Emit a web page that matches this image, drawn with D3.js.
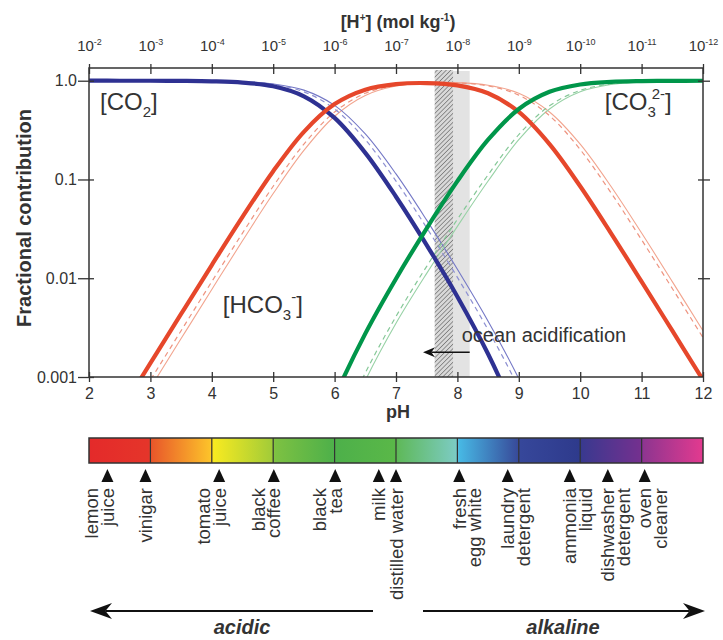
<!DOCTYPE html>
<html>
<head>
<meta charset="utf-8">
<script src="https://cdn.jsdelivr.net/npm/d3@7"></script>
<style>
  body { margin: 0; background: #fff; }
  svg text { font-family: "Liberation Sans", Arial, sans-serif; fill: #333; }
</style>
</head>
<body>
<div class="bjerrum"></div>
<script>
// pH grid the curves were read at
const phGrid = [2, 2.5, 3, 3.5, 4, 4.5, 5, 5.5, 6, 6.5, 7, 7.5, 8, 8.5, 9, 9.5, 10, 10.5, 11, 11.5, 12];

// thick lines
const co2Thick  = [1.0, 0.9996, 0.9986, 0.9957, 0.9864, 0.958, 0.8788, 0.696, 0.42, 0.1859, 0.0669, 0.02168, 0.006502, 0.001708, 0.00035, 0.0000522, null, null, null, null, null];
const hco3Thick = [0.000138, 0.000437, 0.00138, 0.00435, 0.01361, 0.0418, 0.1213, 0.3038, 0.5795, 0.8113, 0.9232, 0.9463, 0.8973, 0.7456, 0.4825, 0.2279, 0.08536, 0.02867, 0.009246, 0.002942, 0.000933];
const co3Thick  = [null, null, null, null, null, null, 0.000013, 0.000103, 0.000621, 0.00275, 0.00989, 0.03206, 0.09617, 0.2526, 0.5171, 0.7721, 0.9146, 0.9713, 0.9908, 0.9971, 0.9991];
// dashed lines
const co2Dash  = [1.0, 0.9997, 0.9991, 0.9971, 0.9908, 0.9713, 0.9146, 0.7721, 0.5171, 0.2529, 0.09643, 0.03238, 0.0102, 0.003, 0.000766, 0.00015, null, null, null, null, null];
const hco3Dash = [0.0000933, 0.000295, 0.000932, 0.002942, 0.009247, 0.02866, 0.08536, 0.2279, 0.4827, 0.7462, 0.9, 0.9556, 0.9519, 0.8854, 0.7147, 0.4426, 0.2008, 0.07359, 0.0245, 0.00788, 0.002506];
const co3Dash  = [null, null, null, null, null, null, null, 0.000035, 0.00023, 0.0011, 0.0041, 0.0132, 0.0395, 0.1115, 0.2845, 0.5572, 0.7992, 0.9264, 0.9755, 0.9921, 0.9975];
// thin lines
const co2Thin  = [1.0, 0.9998, 0.9992, 0.99755, 0.9923, 0.976, 0.928, 0.8029, 0.5629, 0.2892, 0.1138, 0.03874, 0.01231, 0.003666, 0.000961, 0.000197, null, null, null, null, null];
const hco3Thin = [0.0000776, 0.000245, 0.000776, 0.002449, 0.007702, 0.02396, 0.07203, 0.1971, 0.4369, 0.71, 0.8833, 0.9512, 0.9553, 0.8999, 0.7462, 0.4827, 0.2279, 0.08536, 0.02867, 0.009242, 0.002943];
const co3Thin  = [null, null, null, null, null, null, null, 0.000026, 0.00018, 0.00092, 0.0035, 0.0112, 0.0335, 0.0964, 0.2528, 0.5171, 0.7721, 0.9146, 0.9713, 0.9908, 0.9971];

const phTicks = [2, 3, 4, 5, 6, 7, 8, 9, 10, 11, 12];
const fracTicks = [1, 0.1, 0.01, 0.001];
const fracLabels = ["1.0", "0.1", "0.01", "0.001"];

// ocean pH bands: future (hatched) and present (grey)
const futureBand = [7.63, 7.93];
const presentBand = [7.93, 8.2];

// pH colour bar
const barStopPH    = [2, 2.97, 3.03, 3.97, 4.03, 4.97, 5.03, 6, 7, 7.03, 7.97, 8.03, 8.97, 9.03, 10, 10.03, 11, 11.03, 12];
const barStopColor = ["#e42a2a", "#e5352a", "#e9582a", "#fcc22a", "#f8ea20", "#a3cc38", "#7dc142", "#4db04a", "#5ab848", "#5fb95a", "#7ccbc2", "#47b8e4", "#384c9b", "#36479a", "#2e3a8c", "#3a398f", "#75308f", "#8e3590", "#e33a8f"];

const productPH = [2.3, 2.92, 4.12, 5.01, 6.01, 6.72, 7.0, 8.03, 8.82, 9.83, 10.45, 11.05];
const productNames = [["lemon", "juice"], ["vinigar"], ["tomato", "juice"], ["black", "coffee"], ["black", "tea"], ["milk"], ["distilled water"], ["fresh", "egg white"], ["laundry", "detergent"], ["ammonia", "liquid"], ["dishwasher", "detergent"], ["oven", "cleaner"]];

const svg = d3.select(".bjerrum").append("svg")
    .attr("width", 723).attr("height", 640);

const pLeft = 89, pRight = 703, pTop = 68, pBottom = 377;
const x = d3.scaleLinear().domain([2, 12]).range([pLeft, pRight]);
const y = d3.scaleLog().domain([0.001, 1.345]).range([pBottom, pTop]);

// hatch pattern for the future band
const defs = svg.append("defs");
const pat = defs.append("pattern").attr("id", "hatch")
    .attr("patternUnits", "userSpaceOnUse").attr("width", 3.2).attr("height", 3.2)
    .attr("patternTransform", "rotate(45)");
pat.append("rect").attr("width", 3.2).attr("height", 3.2).attr("fill", "#d9d9d9");
pat.append("line").attr("x1", 0).attr("y1", 0).attr("x2", 0).attr("y2", 3.2)
    .attr("stroke", "#555").attr("stroke-width", 1.1);

defs.append("clipPath").attr("id", "plotClip")
    .append("rect").attr("x", pLeft).attr("y", pTop).attr("width", pRight - pLeft).attr("height", pBottom - pTop);

svg.append("rect")
    .attr("x", x(presentBand[0])).attr("y", pTop + 3)
    .attr("width", x(presentBand[1]) - x(presentBand[0])).attr("height", pBottom - pTop - 3)
    .attr("fill", "#e3e3e3");
svg.append("rect")
    .attr("x", x(futureBand[0])).attr("y", pTop + 2)
    .attr("width", x(futureBand[1]) - x(futureBand[0])).attr("height", pBottom - pTop - 2)
    .attr("fill", "url(#hatch)");

// curves
const series = [
    {vals: hco3Thin, color: "#f2a58f", width: 1.1, dash: null},
    {vals: co2Thin, color: "#7478c6", width: 1.1, dash: null},
    {vals: co3Thin, color: "#98d2a6", width: 1.1, dash: null},
    {vals: hco3Dash, color: "#ee9480", width: 1.2, dash: "5,4"},
    {vals: co2Dash, color: "#8d90d2", width: 1.2, dash: "5,4"},
    {vals: co3Dash, color: "#86c898", width: 1.2, dash: "5,4"},
    {vals: co2Thick, color: "#2e3192", width: 4.2, dash: null},
    {vals: hco3Thick, color: "#e6472b", width: 4.2, dash: null},
    {vals: co3Thick, color: "#00964a", width: 4.2, dash: null}
];

const line = d3.line()
    .defined(d => d[1] != null)
    .x(d => x(d[0]))
    .y(d => y(d[1]))
    .curve(d3.curveCatmullRom.alpha(0.5));

svg.append("g").attr("clip-path", "url(#plotClip)")
    .selectAll("path")
    .data(series)
    .join("path")
    .attr("d", s => line(phGrid.map((p, i) => [p, s.vals[i]])))
    .attr("fill", "none")
    .attr("stroke", s => s.color)
    .attr("stroke-width", s => s.width)
    .attr("stroke-dasharray", s => s.dash);

// frame
svg.append("rect").attr("x", pLeft).attr("y", pTop).attr("width", pRight - pLeft).attr("height", pBottom - pTop)
    .attr("fill", "none").attr("stroke", "#333").attr("stroke-width", 1.5);

// bottom axis
const gx = svg.append("g").attr("transform", `translate(0,${pBottom})`)
    .call(d3.axisBottom(x).tickValues(phTicks).tickFormat(d3.format("d")).tickSize(5).tickPadding(6));
gx.select(".domain").remove();
gx.selectAll(".tick line").attr("y1", -5).attr("stroke", "#333").attr("stroke-width", 1.3);
gx.selectAll(".tick text").attr("font-size", 16).attr("fill", "#333").attr("font-family", null);

// top axis, [H+] = 10^-pH
const gt = svg.append("g").attr("transform", `translate(0,${pTop})`)
    .call(d3.axisTop(x).tickValues(phTicks).tickFormat("").tickSize(4));
gt.select(".domain").remove();
gt.selectAll(".tick line").attr("y2", 6).attr("y1", -4).attr("stroke", "#333").attr("stroke-width", 1.3);
gt.selectAll(".tick").each(function(d) {
    const t = d3.select(this).append("text").attr("y", -17).attr("text-anchor", "middle")
        .attr("font-size", 15).attr("fill", "#333");
    t.append("tspan").text("10");
    t.append("tspan").attr("dy", -6).attr("font-size", 9).text("-" + d);
});

// left axis
const gy = svg.append("g").attr("transform", `translate(${pLeft},0)`)
    .call(d3.axisLeft(y).tickValues(fracTicks).tickFormat((d, i) => fracLabels[i]).tickSize(11).tickPadding(1));
gy.select(".domain").remove();
gy.selectAll(".tick line").attr("x1", 5).attr("stroke", "#333").attr("stroke-width", 1.3);
gy.selectAll(".tick text").attr("font-size", 16).attr("fill", "#333").attr("font-family", null);

// right axis
const gr = svg.append("g").attr("transform", `translate(${pRight},0)`)
    .call(d3.axisRight(y).tickValues(fracTicks.slice(0, 3)).tickFormat("").tickSize(7));
gr.select(".domain").remove();
gr.selectAll(".tick line").attr("x1", -5).attr("stroke", "#333").attr("stroke-width", 1.3);

// axis titles
const hTitle = svg.append("text").attr("x", 398).attr("y", 28).attr("text-anchor", "middle")
    .attr("font-size", 18).attr("font-weight", "bold");
hTitle.append("tspan").text("[H");
hTitle.append("tspan").attr("dy", -7).attr("font-size", 10).text("+");
hTitle.append("tspan").attr("dy", 7).text("] (mol kg");
hTitle.append("tspan").attr("dy", -7).attr("font-size", 10).text("-1");
hTitle.append("tspan").attr("dy", 7).text(")");

svg.append("text").attr("x", 398).attr("y", 418).attr("text-anchor", "middle")
    .attr("font-size", 18).attr("font-weight", "bold").text("pH");

svg.append("text").attr("transform", "translate(31,218) rotate(-90)").attr("text-anchor", "middle")
    .attr("font-size", 20).attr("font-weight", "bold").text("Fractional contribution");

// species labels
function species(px, val, base, sub, sup, back) {
    const t = svg.append("text").attr("x", x(px)).attr("y", y(val)).attr("font-size", 24);
    t.append("tspan").text("[" + base);
    t.append("tspan").attr("dy", 7).attr("font-size", 15).text(sub);
    if (sup) {
        t.append("tspan").attr("dy", -18).attr("dx", back).attr("font-size", 15).text(sup);
        t.append("tspan").attr("dy", 11).text("]");
    } else {
        t.append("tspan").attr("dy", -7).text("]");
    }
}
species(2.18, 0.505, "CO", "2", null, 0);
species(4.18, 0.0044, "HCO", "3", "-", 0);
species(10.4, 0.505, "CO", "3", "2-", -4);

// ocean acidification arrow
function arrow(x1, x2, yy, len, half, sw) {
    const dir = Math.sign(x2 - x1);
    svg.append("line").attr("x1", x1).attr("x2", x2 - dir * len * 0.7).attr("y1", yy).attr("y2", yy)
        .attr("stroke", "#111").attr("stroke-width", sw);
    svg.append("path")
        .attr("d", `M${x2},${yy} L${x2 - dir * len},${yy - half} L${x2 - dir * len * 0.7},${yy} L${x2 - dir * len},${yy + half} Z`)
        .attr("fill", "#111");
}
arrow(x(8.2), x(7.44), y(0.00178), 12, 5, 1.4);
svg.append("text").attr("x", x(8.07)).attr("y", y(0.00225)).attr("font-size", 20).text("ocean acidification");

// pH colour bar
const barTop = 438, barH = 25;
const grad = defs.append("linearGradient").attr("id", "phGrad")
    .attr("gradientUnits", "userSpaceOnUse").attr("x1", x(2)).attr("x2", x(12)).attr("y1", 0).attr("y2", 0);
grad.selectAll("stop").data(barStopPH).join("stop")
    .attr("offset", d => (d - 2) / 10)
    .attr("stop-color", (d, i) => barStopColor[i]);
svg.append("rect").attr("x", x(2)).attr("y", barTop).attr("width", x(12) - x(2)).attr("height", barH)
    .attr("fill", "url(#phGrad)").attr("stroke", "#333").attr("stroke-width", 1.5);
svg.selectAll(".div").data(phTicks.slice(1, -1)).join("line")
    .attr("x1", d => x(d)).attr("x2", d => x(d)).attr("y1", barTop).attr("y2", barTop + barH)
    .attr("stroke", "#333").attr("stroke-width", 1.2);

// product markers and labels
const markTop = 469, markBase = 482, labelTop = 488, lineH = 15.5;
svg.selectAll(".mark").data(productPH).join("path")
    .attr("d", d => `M${x(d)},${markTop} L${x(d) + 6},${markBase} L${x(d) - 6},${markBase} Z`)
    .attr("fill", "#111");
productPH.forEach((p, i) => {
    const names = productNames[i];
    const shift = p < 7.5 ? -(names.length - 1) : 0;
    const t = svg.append("text")
        .attr("transform", `translate(${x(p) + 6.5},${labelTop}) rotate(-90)`)
        .attr("text-anchor", "end").attr("font-size", 18.5);
    names.forEach((n, j) => {
        t.append("tspan").attr("x", 0).attr("y", (j + shift) * lineH).text(n);
    });
});

// acidic / alkaline arrows
arrow(373, 90, 611, 22, 8, 2);
arrow(423, 705, 611, 22, 8, 2);
svg.append("text").attr("x", 242).attr("y", 634).attr("text-anchor", "middle")
    .attr("font-size", 20).attr("font-weight", "bold").attr("font-style", "italic").text("acidic");
svg.append("text").attr("x", 563).attr("y", 634).attr("text-anchor", "middle")
    .attr("font-size", 20).attr("font-weight", "bold").attr("font-style", "italic").text("alkaline");
</script>
</body>
</html>
